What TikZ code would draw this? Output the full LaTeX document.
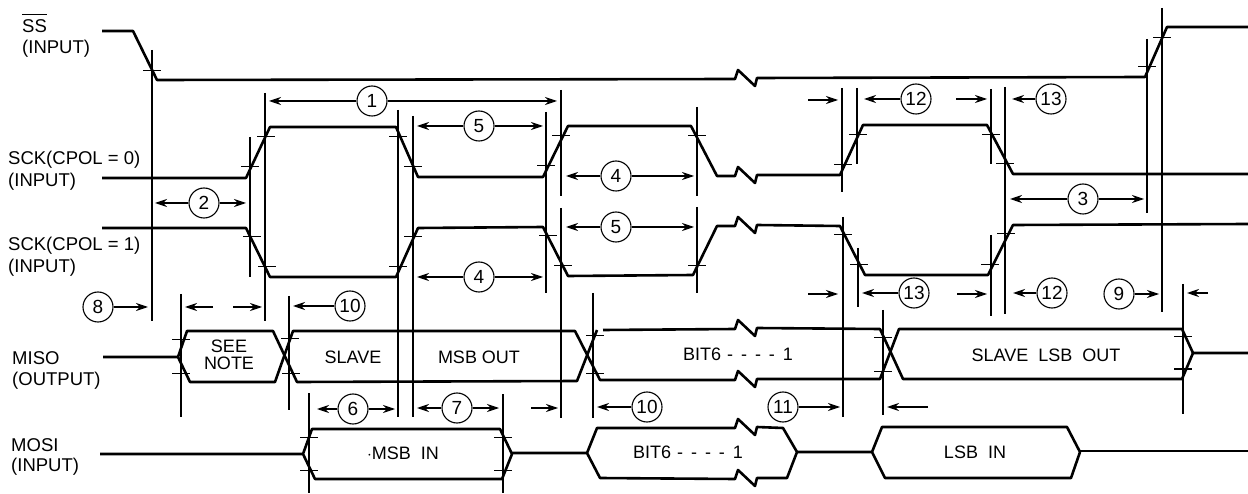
\documentclass[tikz,border=0pt]{standalone}
\usepackage{fontspec}
\setmainfont{Liberation Sans}
\usetikzlibrary{arrows.meta}
\newcommand{\bitsix}{BIT6\hspace{6pt}-\hspace{8pt}-\hspace{8pt}-\hspace{8pt}-\hspace{8pt}1}

\begin{document}
\begin{tikzpicture}[
      x=1pt, y=-1pt,
      wave/.style={line width=2.6pt, line join=round},
      guide/.style={line width=1.1pt},
      tickmark/.style={line width=1pt},
      dim/.style={line width=1.1pt, -{Stealth[length=12pt, width=8pt, inset=4pt]}},
      num/.style={draw, circle, line width=1.1pt, minimum size=30pt, inner sep=0pt, fill=white, font=\fontsize{19}{19}\selectfont},
      lbl/.style={anchor=west, inner sep=0pt, font=\fontsize{18.5}{19}\selectfont},
      txt/.style={inner sep=0pt, align=center, font=\fontsize{18}{17}\selectfont},
      zig/.style={insert path={-- ++(3,-9) -- ++(17,16) -- ++(2,-8)}}
    ]
    \useasboundingbox (0,0) rectangle (1248,494);

    % Guide lines
    \foreach \x/\a/\b in {152/50/321, 250/137/277, 265/93/321, 398/110/417, 413/116/417,
        546/112/293, 561/90/196, 561/208/418, 697/107/196, 697/207/293, 593/293/418,
        842/88/192, 843/217/417, 857/88/164, 858/248/307, 991/89/164, 991/235/316,
        1005/87/314, 1147/39/213, 1162/8/312, 1183/284/414, 883/310/415,
        181/294/417, 289/296/410, 309/393/493, 503/394/493}
      \draw[guide] (\x,\a) -- (\x,\b);

    % Level marks
    \foreach \x/\y in {152/71, 250/167, 252/237, 266/137, 267/267, 398/137, 398/267,
        413/167, 413/237, 546/166, 548/236, 561/136, 563/266, 697/136, 697/266,
        595/336, 595/373, 843/165, 843/235, 858/135, 859/265, 991/135, 990/265,
        1005/164, 1006/234, 1147/67, 1162/38, 1183/337, 1183/369, 883/338, 883/371,
        181/340, 181/373, 290/339, 291/373, 309/437, 309/470, 503/437, 503/470}
      \draw[tickmark] (\x-9,\y) -- (\x+9,\y);

    % SS
    \draw[wave] (102,31) -- (133,31) -- (157,80) -- (735,79) [zig] -- (1145,77) -- (1167,27) -- (1248,27);
    % SCK
    \draw[wave] (102,178) -- (246,178) -- (270,127) -- (396,127) -- (418,177) -- (543,177)
      -- (568,126) -- (691,126) -- (717,176) -- (735,176) [zig] -- (840,175) -- (863,125)
      -- (987,125) -- (1013,174) -- (1248,174);
    \draw[wave] (102,228) -- (246,228) -- (270,277) -- (396,277) -- (418,228) -- (543,227)
      -- (568,276) -- (693,275) -- (717,226) -- (735,226) [zig] -- (840,226) -- (865,275)
      -- (988,275) -- (1013,225) -- (1248,224);
    % MISO
    \draw[wave] (103,357) -- (178,357) -- (187,331) -- (273,331) -- (297,382) -- (577,381)
      -- (597,330);
    \draw[wave] (178,357) -- (190,382) -- (275,382) -- (293,331) -- (575,331) -- (600,380)
      -- (735,380) [zig] -- (880,379) -- (899,329) -- (1182,329) -- (1193,353) -- (1248,353);
    \draw[wave] (603,330) -- (735,329) [zig] -- (880,329) -- (903,379) -- (1182,379) -- (1193,353);
    % MOSI
    \draw[wave] (100,454) -- (303,454) -- (312,429) -- (500,429) -- (512,454) -- (502,479)
      -- (315,479) -- (303,454);
    \draw[wave] (512,453) -- (587,453) -- (597,428) -- (735,428) [zig] -- (783,428) -- (797,452)
      -- (787,478) -- (757,478) -- ++(-2,8) -- ++(-17,-16) -- ++(-3,9) -- (600,478) -- (587,453);
    \draw[wave] (797,452) -- (872,452) -- (882,427) -- (1067,427) -- (1080,452) -- (1071,478)
      -- (885,478) -- (872,452);
    \draw[wave] (1080,451) -- (1248,451);

    % Numbered arrows, both ways
    \foreach \nm/\t/\x/\y/\xa/\xb in {one/1/372/101/269/557, two/2/204/203/155/246,
        fiveA/5/479/126/417/543, fourA/4/616/176/566/694, fiveB/5/616/227/566/694,
        fourB/4/479/277/417/543, three/3/1083/199/1010/1144, six/6/353/409/317/395,
        seven/7/457/408/417/499} {
      \node[num] (\nm) at (\x,\y) {\t};
      \coordinate (\nm L) at (\xa,\y);
      \coordinate (\nm R) at (\xb,\y);
      \draw[dim] (\nm) -- (\nm L);
      \draw[dim] (\nm) -- (\nm R);
    }
    % Numbered arrows, one way
    \foreach \nm/\t/\x/\y/\xa in {twelveA/12/916/99/864, thirteenA/13/1051/99/1012,
        thirteenB/13/914/293/862, twelveB/12/1052/293/1013, nine/9/1119/294/1159,
        eight/8/98/307/148, tenA/10/350/306/293, tenB/10/647/407/597, eleven/11/783/407/840} {
      \node[num] (\nm) at (\x,\y) {\t};
      \coordinate (\nm E) at (\xa,\y);
      \draw[dim] (\nm) -- (\nm E);
    }
    % Arrows without a number
    \foreach \nm/\xa/\xb/\y in {stubA/956/987/99, stubB/808/838/100, stubC/957/987/294,
        stubD/808/838/294, stubE/1208/1187/293, stubF/213/185/307, stubG/233/262/307,
        stubH/531/558/408, stubI/928/887/407} {
      \coordinate (\nm S) at (\xa,\y);
      \coordinate (\nm E) at (\xb,\y);
      \draw[dim] (\nm S) -- (\nm E);
    }

    % Signal names
    \node[lbl, anchor=base west] (ss) at (22,33) {$\overline{\mbox{\rule{0pt}{17pt}SS}}$};
    \node[lbl] (ssin) at (22,49) {(INPUT)};
    \node[lbl] (sck0) at (8,160) {SCK(CPOL = 0)};
    \node[lbl] (sck0in) at (8,182) {(INPUT)};
    \node[lbl] (sck1) at (8,246) {SCK(CPOL = 1)};
    \node[lbl] (sck1in) at (8,268) {(INPUT)};
    \node[lbl] (miso) at (12,358) {MISO};
    \node[lbl] (misoout) at (12,381) {(OUTPUT)};
    \node[lbl] (mosi) at (11,445) {MOSI};
    \node[lbl] (mosiin) at (11,467) {(INPUT)};

    % Data texts
    \node[txt] (note) at (229,355) {SEE\\NOTE};
    \node[txt] (slave) at (353,357) {SLAVE};
    \node[txt] (msbout) at (479,357) {MSB OUT};
    \node[txt] (bitA) at (738,354) {\bitsix};
    \node[txt] (lsbout) at (1046,355) {SLAVE\ \ LSB\ \ OUT};
    \node[txt] (msbin) at (403,453) {$\cdot$MSB\ \ IN};
    \node[txt] (bitB) at (688,452) {\bitsix};
    \node[txt] (lsbin) at (975,452) {LSB\ \ IN};
  \end{tikzpicture}
\end{document}
